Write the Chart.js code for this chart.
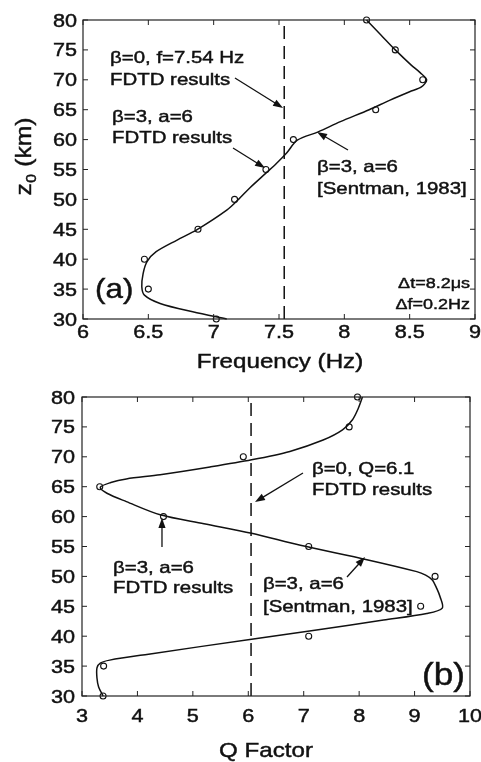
<!DOCTYPE html>
<html>
<head>
<meta charset="utf-8">
<script src="https://cdn.jsdelivr.net/npm/chart.js@4.4.1/dist/chart.umd.min.js"></script>
<style>
  body { margin: 0; background: #fff; }
  #wrap { position: relative; width: 481px; height: 762px; background: #fff; }
  canvas { position: absolute; left: 0; }
  #chartA { top: 0; }
  #chartB { top: 380px; }
</style>
</head>
<body>
<div id="wrap">
  <canvas id="chartA" width="481" height="380"></canvas>
  <canvas id="chartB" width="481" height="382"></canvas>
</div>
<script>
// altitudes of the FDTD runs
const zLevels = [30, 35, 40, 45, 50, 55, 60, 65, 70, 75, 80];
// FDTD results, beta=3, a=6
const fdtdFreq = [7.02, 6.50, 6.47, 6.88, 7.16, 7.40, 7.61, 8.24, 8.60, 8.39, 8.17];
const fdtdQ = [3.38, 3.39, 7.09, 9.11, 9.37, 7.09, 4.47, 3.32, 5.91, 7.82, 7.97];

// Sentman 1983 curves
const sentmanFreqZ = [30, 31.2, 32.6, 34.0, 35.4, 37.6, 39.6, 41.25, 43.2, 44.9, 48.2, 50, 52, 54.4, 56, 57.8, 59.9, 61.3, 63, 65, 66.6, 68, 68.8, 70, 71.2, 72.5, 75, 77.5, 80];
const sentmanFreq = [7.10, 6.84, 6.59, 6.47, 6.45, 6.46, 6.49, 6.56, 6.72, 6.87, 7.10, 7.19, 7.28, 7.40, 7.48, 7.56, 7.64, 7.80, 7.97, 8.19, 8.35, 8.50, 8.59, 8.63, 8.58, 8.51, 8.39, 8.28, 8.17];
const sentmanQZ = [30, 31.5, 33, 34.7, 35.5, 36.0, 37, 39.5, 41.0, 42.7, 43.8, 44.7, 46.6, 48, 49.4, 50.2, 50.8, 52.8, 55.2, 57.2, 58.8, 60.3, 62.5, 63.9, 64.9, 65.7, 66.3, 67.0, 68.3, 69.5, 70.9, 72.8, 74.5, 76.2, 78, 80];
const sentmanQ = [3.38, 3.30, 3.27, 3.27, 3.33, 3.50, 4.20, 6.06, 7.20, 8.44, 9.22, 9.50, 9.46, 9.40, 9.32, 9.20, 9.04, 8.14, 6.94, 6.06, 5.20, 4.41, 3.80, 3.45, 3.33, 3.52, 3.80, 4.41, 5.31, 6.06, 6.75, 7.35, 7.70, 7.88, 7.98, 8.06];

// beta=0 FDTD results (vertical dashed lines)
const beta0Freq = 7.54;
const beta0Q = 6.05;

// tick labels
const freqTicks = [6, 6.5, 7, 7.5, 8, 8.5, 9];
const qTicks = [3, 4, 5, 6, 7, 8, 9, 10];
const zTicks = [30, 35, 40, 45, 50, 55, 60, 65, 70, 75, 80];

const FONT = '"Liberation Sans", Arial, Helvetica, sans-serif';
const INK = '#111';

function pts(xs, ys) {
  return xs.map((v, i) => ({ x: v, y: ys[i] }));
}

// text is slightly thickened to look like the scanned original
function txt(ctx, s, x, y, size, sx, align) {
  ctx.save();
  ctx.font = size + 'px ' + FONT;
  ctx.fillStyle = INK;
  ctx.strokeStyle = INK;
  ctx.lineWidth = 0.45;
  ctx.textAlign = align || 'left';
  ctx.textBaseline = 'alphabetic';
  ctx.translate(x, y);
  ctx.scale(sx, 1);
  ctx.fillText(s, 0, 0);
  ctx.strokeText(s, 0, 0);
  ctx.restore();
}

function arrow(ctx, x1, y1, x2, y2) {
  const ang = Math.atan2(y2 - y1, x2 - x1);
  const len = 10, half = 3.6;
  ctx.beginPath();
  ctx.moveTo(x1, y1);
  ctx.lineTo(x2 - Math.cos(ang) * len * 0.8, y2 - Math.sin(ang) * len * 0.8);
  ctx.stroke();
  ctx.beginPath();
  ctx.moveTo(x2, y2);
  ctx.lineTo(x2 - Math.cos(ang) * len - Math.sin(ang) * half, y2 - Math.sin(ang) * len + Math.cos(ang) * half);
  ctx.lineTo(x2 - Math.cos(ang) * len + Math.sin(ang) * half, y2 - Math.sin(ang) * len - Math.cos(ang) * half);
  ctx.closePath();
  ctx.fill();
}

// frame, inward ticks, labels and annotations
function panelPlugin(cfg) {
  return {
    id: 'panel',
    afterDraw(chart) {
      const ctx = chart.ctx, a = chart.chartArea;
      const xs = chart.scales.x, ys = chart.scales.y;
      ctx.save();
      ctx.strokeStyle = '#222';
      ctx.lineWidth = 1.2;
      ctx.strokeRect(a.left, a.top, a.right - a.left, a.bottom - a.top);

      ctx.lineWidth = 1;
      ctx.beginPath();
      xs.ticks.forEach(t => {
        const px = xs.getPixelForValue(t.value);
        ctx.moveTo(px, a.bottom); ctx.lineTo(px, a.bottom - 5);
        ctx.moveTo(px, a.top); ctx.lineTo(px, a.top + 5);
      });
      ys.ticks.forEach(t => {
        const py = ys.getPixelForValue(t.value);
        ctx.moveTo(a.left, py); ctx.lineTo(a.left + 5, py);
        ctx.moveTo(a.right, py); ctx.lineTo(a.right - 5, py);
      });
      ctx.stroke();

      // tick labels
      xs.ticks.forEach(t => {
        txt(ctx, String(t.value), xs.getPixelForValue(t.value), a.bottom + cfg.xLabelDy, 18, 1.2, 'center');
      });
      ys.ticks.forEach(t => {
        txt(ctx, String(t.value), a.left - cfg.yLabelDx, ys.getPixelForValue(t.value) + 6.5, 18, 1.2, 'right');
      });

      // axis title
      txt(ctx, cfg.xTitle, cfg.xTitleX, cfg.xTitleY, 21, 1.15, 'center');

      if (cfg.yTitle) {
        ctx.save();
        ctx.translate(31, 157);
        ctx.rotate(-Math.PI / 2);
        ctx.font = '22px ' + FONT;
        const w1 = ctx.measureText('z').width * 1.12;
        ctx.font = '14px ' + FONT;
        const w2 = ctx.measureText('0').width * 1.12;
        ctx.font = '22px ' + FONT;
        const w3 = ctx.measureText(' (km)').width * 1.12;
        const start = -(w1 + w2 + w3) / 2;
        txt(ctx, 'z', start, 0, 22, 1.12);
        txt(ctx, '0', start + w1 + 0.5, 5, 14, 1.12);
        txt(ctx, ' (km)', start + w1 + w2 + 1, 0, 22, 1.12);
        ctx.restore();
      }

      // annotation texts
      cfg.texts.forEach(t => {
        txt(ctx, t.s, xs.getPixelForValue(t.x), ys.getPixelForValue(t.y), t.size, t.sx || 1.2, t.align);
      });

      // arrows
      ctx.strokeStyle = INK;
      ctx.fillStyle = INK;
      ctx.lineWidth = 1.3;
      cfg.arrows.forEach(r => {
        arrow(ctx, xs.getPixelForValue(r[0]), ys.getPixelForValue(r[1]),
                   xs.getPixelForValue(r[2]), ys.getPixelForValue(r[3]));
      });
      ctx.restore();
    }
  };
}

function makeChart(id, opt) {
  const ctx = document.getElementById(id).getContext('2d');
  return new Chart(ctx, {
    type: 'scatter',
    data: {
      datasets: [
        {
          data: opt.curve,
          showLine: true,
          tension: 0.3,
          borderColor: INK,
          borderWidth: 1.5,
          pointRadius: 0,
          clip: false
        },
        {
          data: opt.dash,
          showLine: true,
          borderColor: INK,
          borderWidth: 1.5,
          borderDash: [13, 7],
          pointRadius: 0,
          clip: false
        },
        {
          data: opt.points,
          showLine: false,
          pointStyle: 'circle',
          pointRadius: 3,
          borderWidth: 1.1,
          borderColor: INK,
          backgroundColor: 'rgba(255,255,255,0)',
          clip: false
        }
      ]
    },
    options: {
      responsive: false,
      animation: false,
      events: [],
      layout: { padding: opt.padding },
      plugins: {
        legend: { display: false },
        tooltip: { enabled: false }
      },
      scales: {
        x: {
          type: 'linear',
          min: opt.xTicks[0],
          max: opt.xTicks[opt.xTicks.length - 1],
          afterBuildTicks: s => { s.ticks = opt.xTicks.map(v => ({ value: v })); },
          ticks: { display: false },
          grid: { display: false },
          border: { display: false },
          afterFit: s => { s.height = opt.xHeight; }
        },
        y: {
          type: 'linear',
          min: 30,
          max: 80,
          afterBuildTicks: s => { s.ticks = zTicks.map(v => ({ value: v })); },
          ticks: { display: false },
          grid: { display: false },
          border: { display: false },
          afterFit: s => { s.width = opt.yWidth; }
        }
      }
    },
    plugins: [panelPlugin(opt.panel)]
  });
}

makeChart('chartA', {
  curve: pts(sentmanFreq, sentmanFreqZ),
  points: pts(fdtdFreq, zLevels),
  dash: [{ x: beta0Freq, y: 30 }, { x: beta0Freq, y: 80 }],
  xTicks: freqTicks,
  padding: { top: 20, right: 6, left: 0, bottom: 0 },
  xHeight: 61,
  yWidth: 83,
  panel: {
    xLabelDy: 19,
    yLabelDx: 6,
    xTitle: 'Frequency (Hz)',
    xTitleX: 280,
    xTitleY: 368,
    yTitle: true,
    texts: [
      { s: 'β=0, f=7.54 Hz', x: 6.207, y: 72.81, size: 17 },
      { s: 'FDTD results', x: 6.207, y: 69.13, size: 17 },
      { s: 'β=3, a=6', x: 6.222, y: 62.94, size: 17 },
      { s: 'FDTD results', x: 6.222, y: 59.43, size: 17 },
      { s: 'β=3, a=6', x: 7.791, y: 54.58, size: 17 },
      { s: '[Sentman, 1983]', x: 7.791, y: 50.90, size: 17 },
      { s: 'Δt=8.2μs', x: 8.962, y: 35.18, size: 15, align: 'right' },
      { s: 'Δf=0.2Hz', x: 8.962, y: 31.67, size: 15, align: 'right' },
      { s: '(a)', x: 6.092, y: 33.51, size: 28, sx: 1.12 }
    ],
    arrows: [
      [7.163, 70.30, 7.531, 65.28],
      [7.148, 58.60, 7.393, 55.25],
      [8.028, 58.26, 7.791, 61.27]
    ]
  }
});

makeChart('chartB', {
  curve: pts(sentmanQ, sentmanQZ),
  points: pts(fdtdQ, zLevels),
  dash: [{ x: beta0Q, y: 30 }, { x: beta0Q, y: 80 }],
  xTicks: qTicks,
  padding: { top: 17, right: 11, left: 0, bottom: 0 },
  xHeight: 66,
  yWidth: 82,
  panel: {
    xLabelDy: 26,
    yLabelDx: 7,
    xTitle: 'Q Factor',
    xTitleX: 266,
    xTitleY: 377,
    yTitle: false,
    texts: [
      { s: 'β=0, Q=6.1', x: 7.149, y: 67.12, size: 17 },
      { s: 'FDTD results', x: 7.149, y: 63.61, size: 17 },
      { s: 'β=3, a=6', x: 3.559, y: 50.57, size: 17 },
      { s: 'FDTD results', x: 3.559, y: 47.22, size: 17 },
      { s: 'β=3, a=6', x: 6.265, y: 47.89, size: 17 },
      { s: '[Sentman, 1983]', x: 6.265, y: 44.05, size: 17 },
      { s: '(b)', x: 9.91, y: 31.84, size: 32, sx: 1.1, align: 'right' }
    ],
    arrows: [
      [6.987, 67.29, 6.121, 62.44],
      [4.443, 54.92, 4.443, 59.77],
      [7.781, 49.90, 8.106, 53.24]
    ]
  }
});
</script>
</body>
</html>
